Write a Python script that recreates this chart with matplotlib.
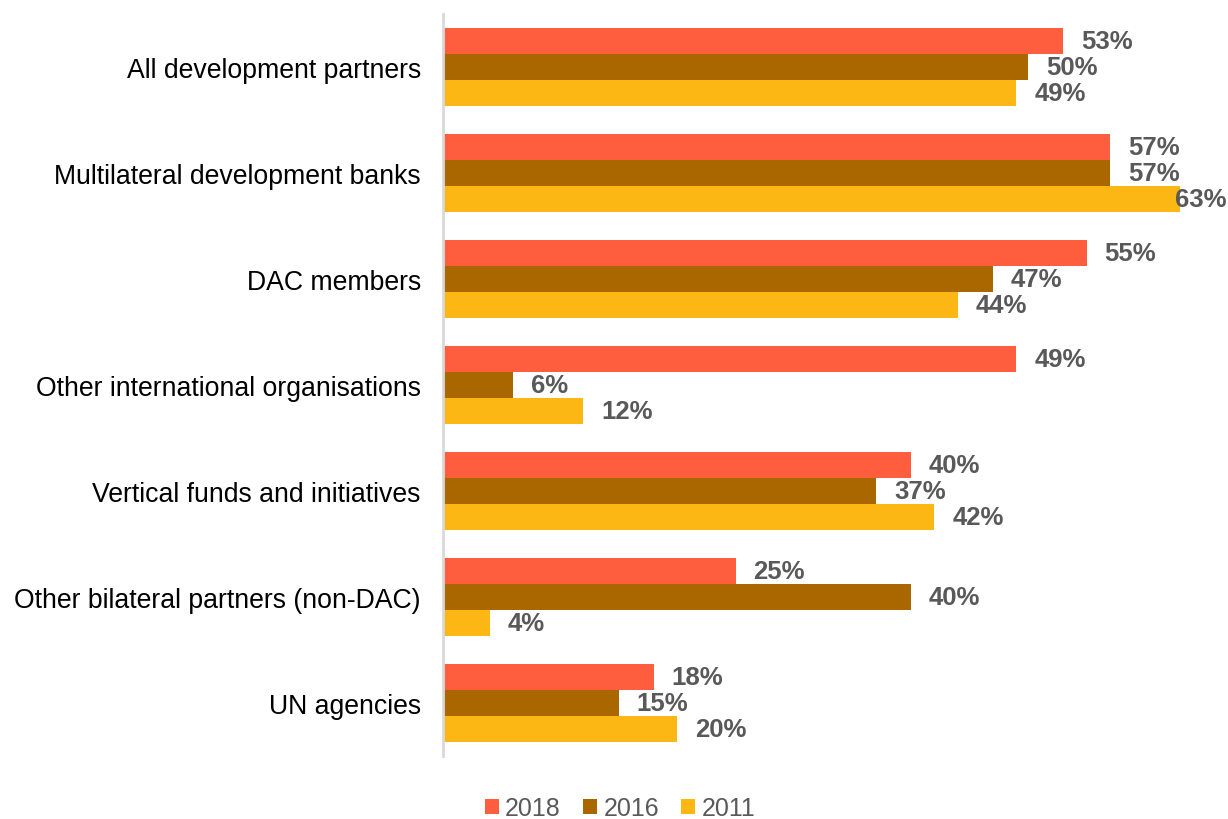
import matplotlib
matplotlib.use("Agg")
import matplotlib.pyplot as plt
import numpy as np
from matplotlib.patches import Patch

plt.rcParams['font.family'] = ['Liberation Sans', 'DejaVu Sans']

categories = ["All development partners", "Multilateral development banks", "DAC members",
              "Other international organisations", "Vertical funds and initiatives",
              "Other bilateral partners (non-DAC)", "UN agencies"]
years = ["2018", "2016", "2011"]
v2018 = [53, 57, 55, 49, 40, 25, 18]
v2016 = [50, 57, 47, 6, 37, 40, 15]
v2011 = [49, 63, 44, 12, 42, 4, 20]
colors = ["#FF5E3E", "#AA6700", "#FCB714"]

W, H = 1228, 820
fig = plt.figure(figsize=(W/100, H/100), dpi=100)
ax = fig.add_axes([443/W, 1-757/H, (W-443)/W, (757-15)/H])

n = len(categories)
y = np.arange(n)
bh = 0.245
series = [v2018, v2016, v2011]
texts = []
for i, (vals, c) in enumerate(zip(series, colors)):
    ypos = y + (i-1)*bh
    ax.barh(ypos, vals, height=bh, color=c, edgecolor='none')
    for yy, v in zip(ypos, vals):
        t = ax.annotate(f"{v}%", xy=(v, yy), xytext=(18, 0), textcoords='offset pixels',
                        ha='left', va='center', fontsize=18.5, fontweight='bold', color='#595959')
        texts.append(t)

ax.set_xlim(0, (W-443)/11.7)
ax.set_ylim(n-0.5, -0.5)
ax.set_yticks(y)
ax.set_yticklabels(categories, fontsize=19.2, color='#000000')
ax.tick_params(axis='y', length=0, pad=16)
ax.set_xticks([])
for s in ['top', 'right', 'bottom']:
    ax.spines[s].set_visible(False)
ax.spines['left'].set_color('#D9D9D9')
ax.spines['left'].set_linewidth(2)

# keep labels inside the figure
fig.canvas.draw()
r = fig.canvas.get_renderer()
for t in texts:
    bb = t.get_window_extent(r)
    if bb.x1 > W - 2:
        t.set_position((18 - (bb.x1 - (W - 2)), 0))

handles = [Patch(facecolor=c, edgecolor='none') for c in colors]
fig.legend(handles, years, loc='center', bbox_to_anchor=(620/W, 1-809/H), ncol=3,
           frameon=False, fontsize=18, handlelength=0.56, handleheight=0.56,
           handletextpad=0.25, columnspacing=0.9, labelcolor='#595959')

fig.savefig("out.png", dpi=100)
